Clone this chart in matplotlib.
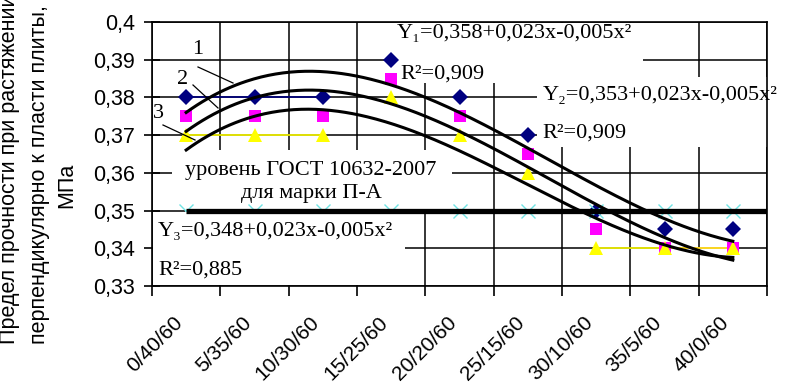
import numpy as np
import matplotlib.pyplot as plt
from matplotlib.patches import Rectangle
from matplotlib.transforms import ScaledTranslation

# composition labels (category axis)
CATEGORIES = ["0/40/60", "5/35/60", "10/30/60", "15/25/60", "20/20/60",
              "25/15/60", "30/10/60", "35/5/60", "40/0/60"]

# measured strength, MPa
SERIES_1 = [0.38, 0.38, 0.38, 0.39, 0.38, 0.37, 0.35, 0.345, 0.345]
SERIES_2 = [0.375, 0.375, 0.375, 0.385, 0.375, 0.365, 0.345, 0.34, 0.34]
SERIES_3 = [0.37, 0.37, 0.37, 0.38, 0.37, 0.36, 0.34, 0.34, 0.34]
GOST_LEVEL = [0.35, 0.35, 0.35, 0.35, 0.35, 0.35, 0.35, 0.35, 0.35]

Y_TICKS = [0.33, 0.34, 0.35, 0.36, 0.37, 0.38, 0.39, 0.4]
Y_TICK_LABELS = ["0,33", "0,34", "0,35", "0,36", "0,37", "0,38", "0,39", "0,4"]

TREND_DEGREE = 3

W, H = 786, 386
SANS = "Liberation Sans"
SERIF = ["Liberation Serif", "DejaVu Serif"]


def fx(px):
    return px / W


def fy(py):
    return 1 - py / H


def main():
    fig = plt.figure(figsize=(W / 100, H / 100), dpi=100, facecolor="white")
    ax = fig.add_axes([fx(152), fy(286), (767 - 152) / W, (286 - 22) / H])
    x = np.arange(len(CATEGORIES))

    ax.set_xlim(-0.5, len(CATEGORIES) - 0.5)
    ax.set_ylim(0.33, 0.4)

    # grid: horizontal at every 0.01, vertical at category borders
    ax.set_yticks(Y_TICKS)
    ax.set_yticklabels(Y_TICK_LABELS, family=SANS, fontsize=15.5)
    ax.set_xticks(x)
    ax.set_xticklabels([])
    ax.set_xticks(np.arange(len(CATEGORIES) + 1) - 0.5, minor=True)
    ax.tick_params(axis="x", which="major", length=0)
    ax.tick_params(axis="x", which="minor", length=7, width=1.2, direction="out")
    ax.tick_params(axis="y", length=12, width=1.2, direction="inout", pad=6)
    ax.grid(axis="y", color="black", linewidth=1.1, zorder=0.5)
    ax.grid(axis="x", which="minor", color="black", linewidth=1.1, zorder=0.5)
    ax.set_axisbelow(True)
    for s in ax.spines.values():
        s.set_linewidth(1.2)

    # slanted category labels, ending a little left of the category centre
    lab_tr = ax.get_xaxis_transform() + ScaledTranslation(
        -0.13, -0.27, fig.dpi_scale_trans)
    for xi, name in zip(x, CATEGORIES):
        ax.text(xi, 0, name, transform=lab_tr, family=SANS, fontsize=15,
                rotation=45, rotation_mode="anchor", ha="right", va="top",
                clip_on=False)

    # measured points
    styles = [
        (SERIES_1, "D", "#000080", 8),
        (SERIES_2, "s", "#ff00ff", 9),
        (SERIES_3, "^", "#ffff00", 10),
        (GOST_LEVEL, "x", "#70e4e4", 10),
    ]
    for vals, mk, col, ms in styles:
        ax.plot(x, vals, linestyle="none", marker=mk, color=col,
                markersize=ms, markeredgewidth=1 if mk == "x" else 0, zorder=2)
        if mk == "x":
            continue
        # connecting line only shows on flat stretches lying on a grid line
        for i in range(len(vals) - 1):
            if vals[i] == vals[i + 1] and np.isclose(Y_TICKS, vals[i]).any():
                ax.plot(x[i:i + 2], vals[i:i + 2], color=col, linewidth=1.2,
                        zorder=1.8)

    # white label boxes that hide the grid (the lowest one also hides markers)
    for (x0, y0, x1, y1), z in [((395, 23, 643, 83), 1.9),
                                ((537, 77, 786, 147), 1.9),
                                ((172, 150, 452, 209), 1.9),
                                ((153, 212, 405, 285), 3)]:
        ax.add_patch(Rectangle((fx(x0), fy(y1)), fx(x1) - fx(x0),
                               fy(y0) - fy(y1), transform=fig.transFigure,
                               facecolor="white", edgecolor="none",
                               zorder=z, clip_on=False))

    # standard level
    ax.hlines(GOST_LEVEL[0], x[0], len(CATEGORIES) - 0.5, color="black",
              linewidth=3.8, zorder=4)

    # polynomial trend lines
    xs = np.linspace(x[0], x[-1], 300)
    for vals in (SERIES_1, SERIES_2, SERIES_3):
        coef = np.polyfit(x, vals, TREND_DEGREE)
        ax.plot(xs, np.polyval(coef, xs), color="black", linewidth=2.2,
                zorder=5)

    tk = dict(transform=fig.transFigure, family=SERIF, fontsize=16,
              zorder=6, va="center")
    ax.text(fx(397), fy(33), "Y\u2081=0,358+0,023x-0,005x\u00b2", **tk)
    ax.text(fx(400), fy(74), "R\u00b2=0,909", **tk)
    ax.text(fx(543), fy(95), "Y\u2082=0,353+0,023x-0,005x\u00b2", **tk)
    ax.text(fx(542), fy(133), "R\u00b2=0,909", **tk)
    ax.text(fx(158), fy(231), "Y\u2083=0,348+0,023x-0,005x\u00b2", **tk)
    ax.text(fx(158), fy(270), "R\u00b2=0,885", **tk)
    ax.text(fx(311), fy(182), "уровень ГОСТ 10632-2007\nдля марки П-А",
            ha="center", linespacing=1.3, **tk)

    # curve numbers with leader lines
    for num, (tx, ty), (a, b) in [("1", (198, 50), ((198, 67), (233, 83))),
                                  ("2", (183, 80), ((193, 85), (218, 108))),
                                  ("3", (158, 113), ((163, 125), (195, 140)))]:
        ax.text(fx(tx), fy(ty), num, ha="center", **tk)
        ax.plot([fx(a[0]), fx(b[0])], [fy(a[1]), fy(b[1])], color="black",
                linewidth=0.9, transform=fig.transFigure, zorder=6,
                clip_on=False)

    # y axis title, clipped at the top like the original
    yl = dict(transform=fig.transFigure, family=SANS, fontsize=15.5,
              rotation=90, rotation_mode="anchor", va="center")
    fig.text(fx(10), fy(344), "Предел прочности при растяжении", ha="left", **yl)
    fig.text(fx(40), fy(344), "перпендикулярно к пласти плиты,", ha="left", **yl)
    fig.text(fx(67), fy(185), "МПа", ha="center", **yl)

    fig.savefig("out.png", dpi=100, facecolor="white")


if __name__ == "__main__":
    main()
